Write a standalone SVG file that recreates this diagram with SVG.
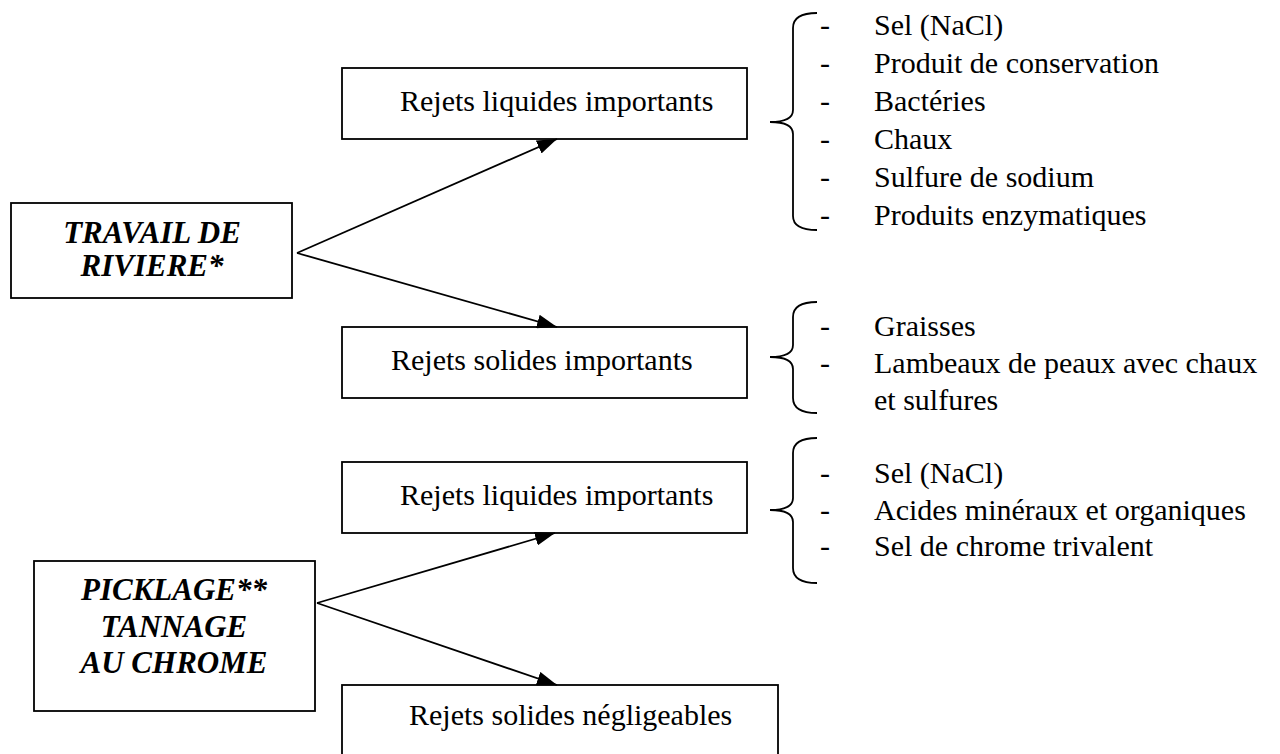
<svg xmlns="http://www.w3.org/2000/svg" width="1280" height="754" viewBox="0 0 1280 754">
<defs>
<style>
.box{fill:#fff;stroke:#000;stroke-width:1.8}
.t{font-family:"Liberation Serif","Times New Roman",serif;font-size:30px;fill:#000}
.h{font-family:"Liberation Serif","Times New Roman",serif;font-size:31px;font-weight:bold;font-style:italic;fill:#000;text-anchor:middle}
.ln{stroke:#000;stroke-width:1.8;fill:none}
.br{stroke:#000;stroke-width:1.8;fill:none}
</style>
<marker id="ah" viewBox="0 0 20 14" refX="20" refY="7" markerWidth="20" markerHeight="14" markerUnits="userSpaceOnUse" orient="auto">
<path d="M0,0 L20,7 L0,14 z" fill="#000"/>
</marker>
</defs>
<rect width="1280" height="754" fill="#fff"/>

<g id="travail">
<rect class="box" x="11" y="203" width="281" height="95"/>
<text class="h" x="152" y="243">TRAVAIL DE</text>
<text class="h" x="152" y="276">RIVIERE*</text>
</g>

<g id="picklage">
<rect class="box" x="34" y="561" width="281" height="150"/>
<text class="h" x="174" y="600">PICKLAGE**</text>
<text class="h" x="174" y="637">TANNAGE</text>
<text class="h" x="174" y="673">AU CHROME</text>
</g>

<g id="liquides1">
<rect class="box" x="342" y="68" width="405" height="71"/>
<text class="t" x="400" y="111">Rejets liquides importants</text>
</g>

<g id="solides1">
<rect class="box" x="342" y="327" width="405" height="71"/>
<text class="t" x="391" y="370">Rejets solides importants</text>
</g>

<g id="liquides2">
<rect class="box" x="342" y="462" width="405" height="71"/>
<text class="t" x="400" y="505">Rejets liquides importants</text>
</g>

<g id="solides2">
<rect class="box" x="342" y="685" width="436" height="80"/>
<text class="t" x="409" y="725">Rejets solides négligeables</text>
</g>

<g id="connectors">
<line class="ln" x1="297" y1="253" x2="557" y2="139" marker-end="url(#ah)"/>
<line class="ln" x1="297" y1="253" x2="557" y2="327" marker-end="url(#ah)"/>
<line class="ln" x1="317" y1="603" x2="555" y2="533" marker-end="url(#ah)"/>
<line class="ln" x1="317" y1="603" x2="557" y2="685" marker-end="url(#ah)"/>
</g>

<g id="list1">
<path class="br" d="M817,13 Q793,13 793,28 L793,110 Q793,122 770,122 Q793,122 793,134 L793,216 Q793,230 817,230"/>
<text class="t" x="820" y="35">-</text>
<text class="t" x="820" y="73">-</text>
<text class="t" x="820" y="111">-</text>
<text class="t" x="820" y="149">-</text>
<text class="t" x="820" y="187">-</text>
<text class="t" x="820" y="225">-</text>
<text class="t" x="874" y="35">Sel (NaCl)</text>
<text class="t" x="874" y="73">Produit de conservation</text>
<text class="t" x="874" y="111">Bactéries</text>
<text class="t" x="874" y="149">Chaux</text>
<text class="t" x="874" y="187">Sulfure de sodium</text>
<text class="t" x="874" y="225">Produits enzymatiques</text>
</g>

<g id="list2">
<path class="br" d="M817,302 Q793,302 793,317 L793,345 Q793,357 770,357 Q793,357 793,369 L793,398 Q793,413 817,413"/>
<text class="t" x="820" y="336">-</text>
<text class="t" x="820" y="373">-</text>
<text class="t" x="874" y="336">Graisses</text>
<text class="t" x="874" y="373">Lambeaux de peaux avec chaux</text>
<text class="t" x="874" y="410">et sulfures</text>
</g>

<g id="list3">
<path class="br" d="M817,438 Q793,438 793,453 L793,498 Q793,510 770,510 Q793,510 793,522 L793,568 Q793,583 817,583"/>
<text class="t" x="820" y="483">-</text>
<text class="t" x="820" y="520">-</text>
<text class="t" x="820" y="556">-</text>
<text class="t" x="874" y="483">Sel (NaCl)</text>
<text class="t" x="874" y="520">Acides minéraux et organiques</text>
<text class="t" x="874" y="556">Sel de chrome trivalent</text>
</g>
</svg>
